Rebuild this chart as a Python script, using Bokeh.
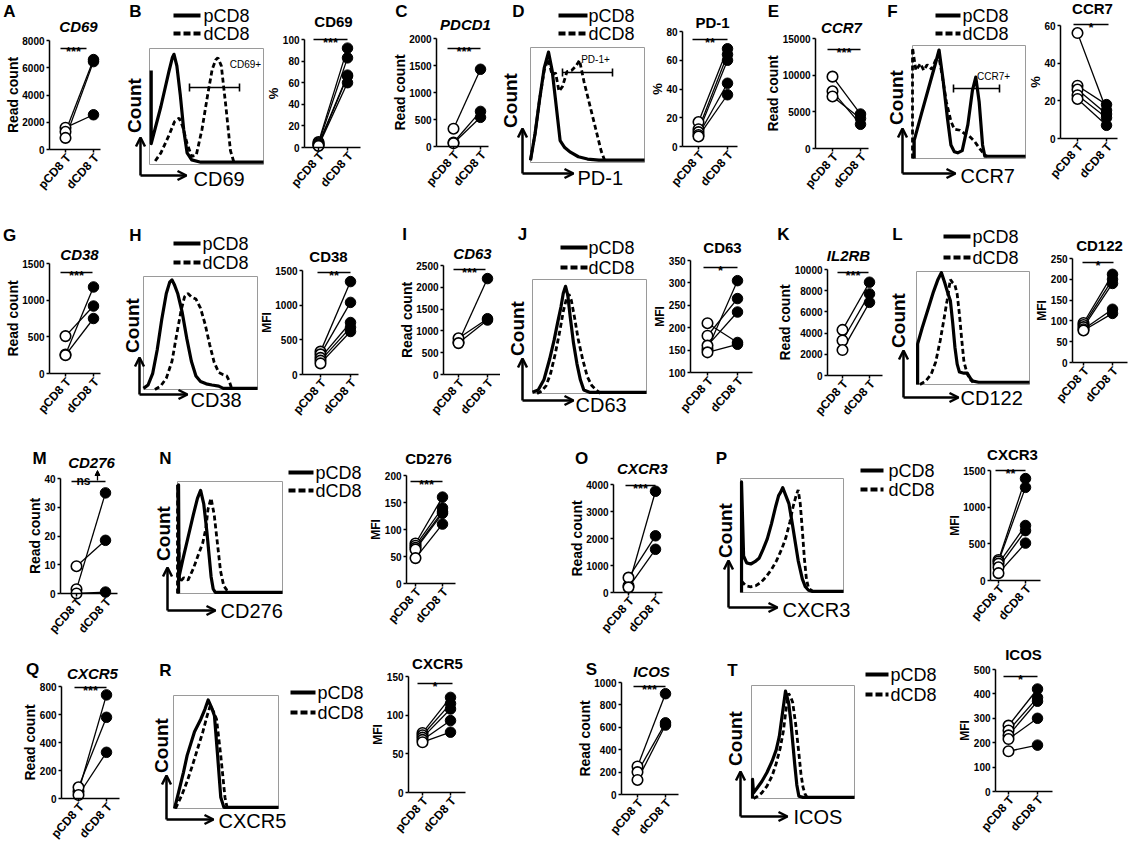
import math
from bokeh.plotting import figure
from bokeh.layouts import row, column
from bokeh.models import Range1d, FixedTicker, Label, Arrow, OpenHead, NormalHead, ColumnDataSource
from bokeh.embed import file_html
from bokeh.resources import INLINE

FONT = "Liberation Sans"
CATS = ["pCD8 T", "dCD8 T"]
LEGEND = ["pCD8", "dCD8"]

# ---------------- data: paired dot plots (pCD8 T, dCD8 T) ----------------
A_p = [1600, 1300, 850];            A_d = [2550, 6600, 6450]
Bd_p = [5, 4, 3, 2, 1.5];           Bd_d = [92, 83, 67, 66, 60]
C_p = [330, 75, 60];                C_d = [1430, 650, 540]
Dd_p = [17, 12, 10, 8, 7];          Dd_d = [68, 64, 60, 44, 36]
E_p = [9800, 7800, 7100];           E_d = [4700, 3300, 4100]
Fd_p = [56, 28, 26, 23, 21];        Fd_d = [15, 18, 13, 11, 7]
G_p = [510, 260, 250];              G_d = [920, 1180, 750]
Hd_p = [330, 290, 240, 200, 160];   Hd_d = [1340, 1040, 750, 680, 620]
I_p = [740, 830, 720];              I_d = [2200, 1280, 1250]
Jd_p = [152, 182, 160, 210, 145];   Jd_d = [305, 265, 235, 167, 163]
K_p = [4300, 3300, 2400];           K_d = [8800, 7700, 6900]
Ld_p = [95, 90, 85, 80, 77];        Ld_d = [212, 200, 190, 128, 118]
M_p = [1.5, 9.5, 0];                M_d = [35, 18.5, 0.5]
Nd_p = [74, 70, 66, 63, 47];        Nd_d = [160, 140, 133, 130, 110]
O_p = [250, 550, 190];              O_d = [3750, 2100, 1600]
Pd_p = [280, 260, 230, 180, 100];   Pd_d = [1390, 1270, 750, 680, 510]
Q_p = [50, 80, 25];                 Q_d = [740, 580, 330]
Rd_p = [77, 74, 71, 68, 65];        Rd_d = [123, 115, 108, 93, 78]
S_p = [250, 200, 130];              S_d = [900, 640, 620]
Td_p = [270, 250, 230, 215, 165];   Td_d = [420, 385, 370, 300, 190]

# y ticks
A_ticks = [0, 2000, 4000, 6000, 8000]
Bd_ticks = [0, 20, 40, 60, 80, 100]
C_ticks = [0, 500, 1000, 1500, 2000]
Dd_ticks = [0, 20, 40, 60, 80]
E_ticks = [0, 5000, 10000, 15000]
Fd_ticks = [0, 20, 40, 60]
G_ticks = [0, 500, 1000, 1500]
Hd_ticks = [0, 500, 1000, 1500]
I_ticks = [0, 500, 1000, 1500, 2000, 2500]
Jd_ticks = [100, 150, 200, 250, 300, 350]
K_ticks = [0, 2000, 4000, 6000, 8000, 10000]
Ld_ticks = [0, 50, 100, 150, 200, 250]
M_ticks = [0, 10, 20, 30, 40]
Nd_ticks = [0, 50, 100, 150, 200]
O_ticks = [0, 1000, 2000, 3000, 4000]
Pd_ticks = [0, 500, 1000, 1500]
Q_ticks = [0, 200, 400, 600, 800]
Rd_ticks = [0, 50, 100, 150]
S_ticks = [0, 200, 400, 600, 800, 1000]
Td_ticks = [0, 100, 200, 300, 400, 500]

# ---------------- data: histogram outlines (fraction of axis, fraction of max count) ----------------
B_sx = [0.015, 0.015, 0.1, 0.17, 0.2, 0.215, 0.24, 0.27, 0.3, 0.33, 0.37, 0.45, 0.6, 1.0]
B_sy = [0.81, 0.18, 0.5, 0.8, 0.92, 0.95, 0.85, 0.6, 0.3, 0.1, 0.04, 0.02, 0.02, 0.02]
B_dx = [0.05, 0.1, 0.17, 0.22, 0.26, 0.29, 0.33, 0.37, 0.41, 0.46, 0.51, 0.55, 0.58, 0.6, 0.63, 0.67, 0.71, 0.74]
B_dy = [0.03, 0.1, 0.25, 0.37, 0.4, 0.33, 0.18, 0.07, 0.08, 0.3, 0.6, 0.82, 0.9, 0.92, 0.85, 0.5, 0.12, 0.02]

D_sx = [0.0, 0.04, 0.08, 0.12, 0.158, 0.19, 0.22, 0.26, 0.3, 0.35, 0.42, 0.5, 0.6, 1.0]
D_sy = [0.02, 0.25, 0.55, 0.82, 0.96, 0.8, 0.54, 0.19, 0.13, 0.09, 0.05, 0.03, 0.02, 0.02]
D_dx = [0.0, 0.04, 0.08, 0.12, 0.155, 0.19, 0.22, 0.25, 0.28, 0.32, 0.36, 0.4, 0.43, 0.47, 0.52, 0.57, 0.62, 0.65]
D_dy = [0.02, 0.25, 0.55, 0.8, 0.9, 0.76, 0.78, 0.62, 0.66, 0.79, 0.8, 0.84, 0.89, 0.7, 0.5, 0.3, 0.1, 0.02]

F_sx = [0.015, 0.015, 0.08, 0.15, 0.2, 0.235, 0.27, 0.31, 0.34, 0.37, 0.4, 0.44, 0.49, 0.53, 0.56, 0.59, 0.62, 0.64, 0.7, 1.0]
F_sy = [0.0, 0.16, 0.4, 0.65, 0.83, 0.96, 0.7, 0.35, 0.12, 0.06, 0.05, 0.07, 0.3, 0.6, 0.72, 0.5, 0.12, 0.02, 0.02, 0.02]
F_dx = [0.0, 0.0, 0.03, 0.07, 0.1, 0.13, 0.17, 0.2, 0.23, 0.26, 0.3, 0.34, 0.37, 0.42, 0.46, 0.5, 0.55, 0.6, 0.64, 0.66]
F_dy = [0.0, 0.98, 0.78, 0.84, 0.78, 0.83, 0.79, 0.86, 0.92, 0.75, 0.5, 0.33, 0.26, 0.25, 0.22, 0.2, 0.15, 0.08, 0.03, 0.02]

H_sx = [0.0, 0.04, 0.08, 0.12, 0.16, 0.2, 0.23, 0.25, 0.27, 0.3, 0.34, 0.38, 0.42, 0.46, 0.5, 0.55, 0.6, 0.66, 0.7, 1.0]
H_sy = [0.01, 0.04, 0.14, 0.35, 0.62, 0.85, 0.95, 0.97, 0.93, 0.85, 0.68, 0.45, 0.25, 0.12, 0.07, 0.05, 0.04, 0.03, 0.01, 0.01]
H_dx = [0.1, 0.15, 0.2, 0.25, 0.29, 0.33, 0.36, 0.39, 0.42, 0.46, 0.5, 0.54, 0.58, 0.62, 0.66, 0.7, 0.73, 0.75, 0.77, 0.79]
H_dy = [0.0, 0.03, 0.1, 0.25, 0.48, 0.7, 0.82, 0.85, 0.82, 0.8, 0.72, 0.58, 0.4, 0.24, 0.15, 0.13, 0.12, 0.08, 0.02, 0.0]

J_sx = [0.0, 0.05, 0.1, 0.15, 0.19, 0.22, 0.25, 0.27, 0.29, 0.31, 0.33, 0.36, 0.39, 0.42, 0.45, 0.5, 1.0]
J_sy = [0.01, 0.03, 0.12, 0.3, 0.47, 0.62, 0.76, 0.88, 0.94, 0.86, 0.68, 0.44, 0.26, 0.12, 0.03, 0.01, 0.01]
J_dx = [0.04, 0.08, 0.12, 0.16, 0.2, 0.24, 0.27, 0.3, 0.32, 0.34, 0.37, 0.4, 0.44, 0.48, 0.52, 0.56, 0.6]
J_dy = [0.0, 0.02, 0.07, 0.18, 0.35, 0.55, 0.72, 0.84, 0.87, 0.82, 0.66, 0.48, 0.3, 0.15, 0.07, 0.03, 0.0]

L_sx = [0.01, 0.01, 0.05, 0.1, 0.15, 0.19, 0.22, 0.25, 0.28, 0.3, 0.32, 0.34, 0.36, 0.38, 0.42, 0.45, 0.48, 0.5, 0.55, 1.0]
L_sy = [0.0, 0.36, 0.5, 0.66, 0.82, 0.93, 0.99, 0.9, 0.8, 0.74, 0.55, 0.33, 0.18, 0.11, 0.1, 0.1, 0.05, 0.03, 0.02, 0.02]
L_dx = [0.03, 0.08, 0.13, 0.17, 0.21, 0.24, 0.27, 0.3, 0.32, 0.34, 0.36, 0.38, 0.4, 0.42, 0.45, 0.48, 0.5]
L_dy = [0.0, 0.03, 0.09, 0.2, 0.39, 0.56, 0.74, 0.93, 0.9, 0.88, 0.8, 0.62, 0.4, 0.2, 0.09, 0.04, 0.02]

N_sx = [0.01, 0.01, 0.015, 0.05, 0.1, 0.15, 0.19, 0.22, 0.25, 0.28, 0.3, 0.32, 0.34, 0.36, 1.0]
N_sy = [0.0, 0.97, 0.15, 0.3, 0.5, 0.7, 0.85, 0.92, 0.8, 0.55, 0.35, 0.15, 0.04, 0.01, 0.01]
N_dx = [0.0, 0.0, 0.02, 0.06, 0.1, 0.15, 0.2, 0.24, 0.27, 0.29, 0.31, 0.32, 0.35, 0.38, 0.41, 0.44, 0.47, 0.5]
N_dy = [0.0, 0.97, 0.1, 0.14, 0.12, 0.22, 0.35, 0.45, 0.58, 0.75, 0.82, 0.85, 0.7, 0.45, 0.2, 0.07, 0.03, 0.01]

P_sx = [0.01, 0.01, 0.03, 0.06, 0.1, 0.14, 0.18, 0.22, 0.26, 0.3, 0.34, 0.37, 0.39, 0.41, 0.44, 0.47, 0.5, 0.53, 0.56, 0.6, 0.63, 0.66, 0.7, 1.0]
P_sy = [0.0, 0.97, 0.32, 0.26, 0.25, 0.27, 0.3, 0.38, 0.47, 0.6, 0.75, 0.85, 0.88, 0.92, 0.85, 0.78, 0.62, 0.45, 0.28, 0.12, 0.05, 0.02, 0.01, 0.01]
P_dx = [0.01, 0.05, 0.1, 0.15, 0.2, 0.25, 0.3, 0.35, 0.4, 0.44, 0.48, 0.51, 0.54, 0.56, 0.58, 0.6, 0.62, 0.64, 0.66, 0.7]
P_dy = [0.1, 0.06, 0.05, 0.06, 0.09, 0.14, 0.2, 0.28, 0.38, 0.48, 0.62, 0.75, 0.85, 0.9, 0.78, 0.55, 0.3, 0.12, 0.04, 0.01]

R_sx = [0.01, 0.05, 0.095, 0.13, 0.2, 0.26, 0.3, 0.33, 0.36, 0.39, 0.42, 0.45, 0.48, 1.0]
R_sy = [0.0, 0.15, 0.32, 0.47, 0.68, 0.79, 0.88, 0.96, 0.9, 0.82, 0.47, 0.1, 0.01, 0.01]
R_dx = [0.02, 0.08, 0.13, 0.18, 0.23, 0.28, 0.32, 0.35, 0.38, 0.41, 0.45, 0.49, 0.51]
R_dy = [0.0, 0.12, 0.24, 0.38, 0.53, 0.68, 0.82, 0.91, 0.86, 0.79, 0.47, 0.1, 0.01]

T_sx = [0.01, 0.01, 0.02, 0.06, 0.1, 0.15, 0.2, 0.24, 0.27, 0.3, 0.33, 0.36, 0.38, 0.4, 0.42, 0.44, 0.46, 0.5, 1.0]
T_sy = [0.0, 0.17, 0.05, 0.1, 0.15, 0.23, 0.33, 0.43, 0.55, 0.75, 0.95, 0.85, 0.7, 0.5, 0.3, 0.12, 0.02, 0.01, 0.01]
T_dx = [0.02, 0.06, 0.1, 0.15, 0.2, 0.24, 0.28, 0.31, 0.34, 0.36, 0.38, 0.4, 0.43, 0.46, 0.48, 0.5, 0.52, 0.54]
T_dy = [0.0, 0.02, 0.05, 0.11, 0.2, 0.31, 0.45, 0.6, 0.82, 0.93, 0.9, 0.85, 0.65, 0.4, 0.22, 0.1, 0.04, 0.01]

# ---------------- panel descriptions ----------------
DOTS = {
    "A":  dict(p=A_p, d=A_d, ticks=A_ticks, ylab="Read count", title="CD69", it=True, stars="***", letter="A"),
    "Bd": dict(p=Bd_p, d=Bd_d, ticks=Bd_ticks, ylab="%", title="CD69", it=False, stars="***", letter=None),
    "C":  dict(p=C_p, d=C_d, ticks=C_ticks, ylab="Read count", title="PDCD1", it=True, stars="***", letter="C"),
    "Dd": dict(p=Dd_p, d=Dd_d, ticks=Dd_ticks, ylab="%", title="PD-1", it=False, stars="**", letter=None),
    "E":  dict(p=E_p, d=E_d, ticks=E_ticks, ylab="Read count", title="CCR7", it=True, stars="***", letter="E"),
    "Fd": dict(p=Fd_p, d=Fd_d, ticks=Fd_ticks, ylab="%", title="CCR7", it=False, stars="*", letter=None),
    "G":  dict(p=G_p, d=G_d, ticks=G_ticks, ylab="Read count", title="CD38", it=True, stars="***", letter="G"),
    "Hd": dict(p=Hd_p, d=Hd_d, ticks=Hd_ticks, ylab="MFI", title="CD38", it=False, stars="**", letter=None),
    "I":  dict(p=I_p, d=I_d, ticks=I_ticks, ylab="Read count", title="CD63", it=True, stars="***", letter="I"),
    "Jd": dict(p=Jd_p, d=Jd_d, ticks=Jd_ticks, ylab="MFI", title="CD63", it=False, stars="*", letter=None),
    "K":  dict(p=K_p, d=K_d, ticks=K_ticks, ylab="Read count", title="IL2RB", it=True, stars="***", letter="K"),
    "Ld": dict(p=Ld_p, d=Ld_d, ticks=Ld_ticks, ylab="MFI", title="CD122", it=False, stars="*", letter=None),
    "M":  dict(p=M_p, d=M_d, ticks=M_ticks, ylab="Read count", title="CD276", it=True, stars="ns", letter="M"),
    "Nd": dict(p=Nd_p, d=Nd_d, ticks=Nd_ticks, ylab="MFI", title="CD276", it=False, stars="***", letter=None),
    "O":  dict(p=O_p, d=O_d, ticks=O_ticks, ylab="Read count", title="CXCR3", it=True, stars="***", letter="O"),
    "Pd": dict(p=Pd_p, d=Pd_d, ticks=Pd_ticks, ylab="MFI", title="CXCR3", it=False, stars="**", letter=None),
    "Q":  dict(p=Q_p, d=Q_d, ticks=Q_ticks, ylab="Read count", title="CXCR5", it=True, stars="***", letter="Q"),
    "Rd": dict(p=Rd_p, d=Rd_d, ticks=Rd_ticks, ylab="MFI", title="CXCR5", it=False, stars="*", letter=None),
    "S":  dict(p=S_p, d=S_d, ticks=S_ticks, ylab="Read count", title="ICOS", it=True, stars="***", letter="S"),
    "Td": dict(p=Td_p, d=Td_d, ticks=Td_ticks, ylab="MFI", title="ICOS", it=False, stars="*", letter=None),
}

HISTS = {
    "B": dict(sx=B_sx, sy=B_sy, dx=B_dx, dy=B_dy, marker="CD69", letter="B", gate="CD69+"),
    "D": dict(sx=D_sx, sy=D_sy, dx=D_dx, dy=D_dy, marker="PD-1", letter="D", gate="PD-1+"),
    "F": dict(sx=F_sx, sy=F_sy, dx=F_dx, dy=F_dy, marker="CCR7", letter="F", gate="CCR7+"),
    "H": dict(sx=H_sx, sy=H_sy, dx=H_dx, dy=H_dy, marker="CD38", letter="H", gate=None),
    "J": dict(sx=J_sx, sy=J_sy, dx=J_dx, dy=J_dy, marker="CD63", letter="J", gate=None),
    "L": dict(sx=L_sx, sy=L_sy, dx=L_dx, dy=L_dy, marker="CD122", letter="L", gate=None),
    "N": dict(sx=N_sx, sy=N_sy, dx=N_dx, dy=N_dy, marker="CD276", letter="N", gate=None),
    "P": dict(sx=P_sx, sy=P_sy, dx=P_dx, dy=P_dy, marker="CXCR3", letter="P", gate=None),
    "R": dict(sx=R_sx, sy=R_sy, dx=R_dx, dy=R_dy, marker="CXCR5", letter="R", gate=None),
    "T": dict(sx=T_sx, sy=T_sy, dx=T_dx, dy=T_dy, marker="ICOS", letter="T", gate=None),
}

# ---------------- layout geometry (pixel positions on the page) ----------------
DOT_GEOM = {
    "A":  dict(ax=49, xe=100, xp=65, xd=93, y0=149, ym=40, title=(78, 26), letter=(9, 11), bar=(60, 86, 48)),
    "Bd": dict(ax=304, xe=360, xp=318, xd=347, y0=147, ym=39, title=(333, 21), bar=(313, 347, 39)),
    "C":  dict(ax=436, xe=488, xp=453, xd=480, y0=146, ym=38, title=(465, 24), letter=(401, 11), bar=(447, 480, 48)),
    "Dd": dict(ax=682, xe=737, xp=698, xd=727, y0=146, ym=31, title=(712, 22), bar=(692, 727, 39)),
    "E":  dict(ax=815, xe=868, xp=832, xd=860, y0=148, ym=38, title=(841, 27), letter=(773, 11), bar=(827, 860, 49)),
    "Fd": dict(ax=1060, xe=1117, xp=1077, xd=1106, y0=138, ym=25, title=(1092, 8), bar=(1073, 1108, 24)),
    "G":  dict(ax=49, xe=100, xp=65, xd=93, y0=373, ym=263, title=(79, 254), letter=(9, 235), bar=(60, 92, 272)),
    "Hd": dict(ax=302, xe=358, xp=320, xd=350, y0=374, ym=270, title=(328, 256), bar=(317, 350, 272)),
    "I":  dict(ax=443, xe=500, xp=458, xd=487, y0=374, ym=265, title=(472, 253), letter=(404, 234), bar=(453, 485, 269)),
    "Jd": dict(ax=690, xe=752, xp=707, xd=737, y0=372, ym=260, title=(722, 247), bar=(703, 737, 267)),
    "K":  dict(ax=827, xe=882, xp=842, xd=869, y0=375, ym=269, title=(848, 255), letter=(783, 234), bar=(837, 868, 272)),
    "Ld": dict(ax=1072, xe=1127, xp=1083, xd=1112, y0=362, ym=258, title=(1099, 245), bar=(1082, 1113, 262)),
    "M":  dict(ax=60, xe=117, xp=76, xd=105, y0=593, ym=478, title=(91, 462), letter=(39, 458), bar=(71, 105, 481)),
    "Nd": dict(ax=406, xe=455, xp=415, xd=442, y0=583, ym=475, title=(428, 458), bar=(410, 442, 481)),
    "O":  dict(ax=613, xe=662, xp=628, xd=655, y0=592, ym=484, title=(642, 468), letter=(581, 458), bar=(625, 655, 485)),
    "Pd": dict(ax=990, xe=1040, xp=998, xd=1025, y0=580, ym=470, title=(1012, 454), bar=(995, 1025, 470)),
    "Q":  dict(ax=61, xe=119, xp=78, xd=106, y0=798, ym=686, title=(92, 673), letter=(32, 669), bar=(74, 106, 687)),
    "Rd": dict(ax=408, xe=465, xp=422, xd=450, y0=792, ym=676, title=(437, 663), bar=(417, 452, 683)),
    "S":  dict(ax=621, xe=678, xp=637, xd=665, y0=794, ym=682, title=(651, 671), letter=(591, 669), bar=(633, 665, 686)),
    "Td": dict(ax=995, xe=1052, xp=1008, xd=1037, y0=791, ym=669, title=(1023, 654), bar=(1003, 1037, 676)),
}

HIST_GEOM = {
    "B": dict(box=(149, 263, 48, 164), leg=(173, 200, 15, 33, 203), arrow=(140, 175, 137, 186), count=(134, 105), mk=(193, 178), letter=(135, 11), gate=(189, 239, 87), gl=(245, 64)),
    "D": dict(box=(530, 644, 47, 162), leg=(558, 587, 15, 33, 588), arrow=(522, 173, 128, 573), count=(510, 100), mk=(577, 177), letter=(518, 11), gate=(562, 612, 72), gl=(595, 59)),
    "F": dict(box=(912, 1025, 45, 158), leg=(935, 960, 15, 33, 962), arrow=(902, 173, 128, 955), count=(896, 97), mk=(960, 175), letter=(892, 11), gate=(953, 999, 88), gl=(993, 76)),
    "H": dict(box=(143, 257, 276, 389), leg=(173, 200, 243, 262, 202), arrow=(139, 394, 357, 187), count=(132, 325), mk=(190, 399), letter=(135, 235)),
    "J": dict(box=(532, 646, 279, 393), leg=(560, 587, 247, 267, 588), arrow=(522, 400, 358, 573), count=(517, 328), mk=(575, 404), letter=(522, 234)),
    "L": dict(box=(916, 1029, 271, 384), leg=(943, 970, 236, 257, 972), arrow=(903, 397, 350, 958), count=(898, 320), mk=(960, 397), letter=(897, 234)),
    "N": dict(box=(177, 282, 481, 593), leg=(288, 313, 472, 490, 315), arrow=(167, 610, 567, 215), count=(163, 533), mk=(220, 610), letter=(165, 458)),
    "P": dict(box=(740, 843, 478, 592), leg=(860, 883, 470, 489, 888), arrow=(728, 607, 560, 777), count=(725, 530), mk=(782, 609), letter=(721, 458)),
    "R": dict(box=(173, 278, 695, 808), leg=(290, 315, 692, 712, 317), arrow=(166, 819, 775, 213), count=(161, 745), mk=(218, 820), letter=(165, 670)),
    "T": dict(box=(751, 854, 685, 798), leg=(865, 888, 674, 694, 890), arrow=(740, 816, 771, 787), count=(735, 738), mk=(793, 816), letter=(732, 670)),
}

ROWS = [
    dict(y=(0, 210), cells=[("dot", "A", 0, 118), ("hist", "B", 118, 264), ("dot", "Bd", 264, 380),
                            ("dot", "C", 380, 498), ("hist", "D", 498, 646), ("dot", "Dd", 646, 752),
                            ("dot", "E", 752, 880), ("hist", "F", 880, 1026), ("dot", "Fd", 1026, 1133)]),
    dict(y=(210, 222), cells=[("dot", "G", 0, 112), ("hist", "H", 112, 259), ("dot", "Hd", 259, 370),
                              ("dot", "I", 370, 500), ("hist", "J", 500, 648), ("dot", "Jd", 648, 762),
                              ("dot", "K", 762, 886), ("hist", "L", 886, 1032), ("dot", "Ld", 1032, 1133)]),
    dict(y=(432, 212), cells=[("dot", "M", 0, 150), ("hist", "N", 150, 365), ("dot", "Nd", 365, 560),
                              ("dot", "O", 560, 700), ("hist", "P", 700, 940), ("dot", "Pd", 940, 1133)]),
    dict(y=(644, 197), cells=[("dot", "Q", 0, 150), ("hist", "R", 150, 365), ("dot", "Rd", 365, 570),
                              ("dot", "S", 570, 700), ("hist", "T", 700, 945), ("dot", "Td", 945, 1133)]),
]

YLAB_SIZE = {"Read count": 14, "%": 13, "MFI": 12}


def label(p, x, y, text, size, style="normal", align="center", baseline="middle", angle=0):
    p.add_layout(Label(x=x, y=y, text=text, text_font=FONT, text_font_size=size,
                       text_font_style=style, text_align=align, text_baseline=baseline,
                       text_color="black", angle=angle))


def new_fig(W, H, xr, yr, xloc, yloc):
    p = figure(width=W, height=H, title=None, toolbar_location=None, tools="", output_backend="svg",
               x_range=xr, y_range=yr, x_axis_location=xloc, y_axis_location=yloc)
    p.min_border_left = 0
    p.min_border_right = 0
    p.min_border_top = 0
    p.min_border_bottom = 0
    p.outline_line_color = None
    p.background_fill_color = "white"
    p.border_fill_color = "white"
    p.grid.visible = False
    return p


def style_axis(a):
    a.axis_line_width = 1.5
    a.axis_line_color = "black"
    a.major_tick_line_width = 1.5
    a.major_tick_line_color = "black"
    a.major_tick_out = 0
    a.major_tick_in = 3
    a.minor_tick_line_color = None
    # tick texts are written as labels next to the axis (below)
    a.major_label_text_font_size = "0px"
    a.major_label_text_color = None
    a.major_label_standoff = 0


def dot_panel(key, cx0, cx1, ry0, H):
    s = DOTS[key]
    g = DOT_GEOM[key]
    W = cx1 - cx0
    ticks = s["ticks"]
    ymin, ymax = ticks[0], ticks[-1]
    vpp = (ymax - ymin) / (g["y0"] - g["ym"])
    upp = 1.0 / (g["xd"] - g["xp"])

    def X(px):
        return (px - g["xp"]) * upp

    def Y(py):
        return ymin + (g["y0"] - py) * vpp

    p = new_fig(W, H, Range1d(X(cx0), X(cx1)), Range1d(Y(ry0 + H), Y(ry0)), "above", "right")
    xa = p.xaxis[0]
    ya = p.yaxis[0]
    style_axis(xa)
    style_axis(ya)
    xa.fixed_location = ymin
    xa.bounds = (X(g["ax"]), X(g["xe"]))
    xa.ticker = FixedTicker(ticks=[0, 1])
    ya.fixed_location = X(g["ax"])
    ya.bounds = (ymin, ymax)
    ya.ticker = FixedTicker(ticks=ticks)

    for t in ticks:
        label(p, X(g["ax"] - 5), t, str(t), "10px", "bold", "right", "middle")
    for i, px in enumerate((g["xp"], g["xd"])):
        label(p, X(px + 3), Y(g["y0"] + 6), CATS[i], "12px", "bold", "right", "middle", angle=0.85)
    fs = YLAB_SIZE[s["ylab"]]
    maxw = max(len(str(t)) for t in ticks) * 0.556 * 10
    ylx = g["ax"] - 5 - maxw - 2 - fs * 0.55
    label(p, X(ylx), Y((g["y0"] + g["ym"]) / 2), s["ylab"], "%dpx" % fs, "bold", angle=math.pi / 2)

    n = len(s["p"])
    src = ColumnDataSource(dict(xp=[0] * n, xd=[1] * n, yp=s["p"], yd=s["d"]))
    p.segment(x0="xp", y0="yp", x1="xd", y1="yd", source=src, line_color="black", line_width=1.3)
    p.scatter("xp", "yp", source=src, size=10.5, marker="circle", fill_color="white",
              line_color="black", line_width=1.6)
    p.scatter("xd", "yd", source=src, size=10.5, marker="circle", fill_color="black",
              line_color="black", line_width=1)

    bx0, bx1, by = g["bar"]
    p.line([X(bx0), X(bx1)], [Y(by), Y(by)], line_color="black", line_width=1.5)
    if s["stars"] == "ns":
        label(p, X((bx0 + bx1) / 2 - 5), Y(by - 1), "ns", "12px", "bold", "center", "alphabetic")
        p.add_layout(Arrow(end=NormalHead(size=5, fill_color="black", line_color="black"),
                           x_start=X(bx1 - 8), y_start=Y(by - 1), x_end=X(bx1 - 8), y_end=Y(by - 11),
                           line_width=1.3, line_color="black"))
    else:
        label(p, X((bx0 + bx1) / 2), Y(by + 3), s["stars"], "13px", "bold", "center", "alphabetic")

    tx, ty = g["title"]
    label(p, X(tx), Y(ty), s["title"], "15px", "bold italic" if s["it"] else "bold")
    if s["letter"]:
        lx, ly = g["letter"]
        label(p, X(lx), Y(ly), s["letter"], "17px", "bold")
    return p


def hist_panel(key, cx0, cx1, ry0, H):
    s = HISTS[key]
    g = HIST_GEOM[key]
    W = cx1 - cx0
    bx0, bx1, by0, by1 = g["box"]
    bw, bh = bx1 - bx0, by1 - by0

    def U(px):
        return (px - bx0) / bw

    def V(py):
        return (by1 - py) / bh

    p = new_fig(W, H, Range1d(U(cx0), U(cx1)), Range1d(V(ry0 + H), V(ry0)), None, None)

    p.quad(left=0, right=1, bottom=0, top=1, fill_color=None, line_color="#9a9a9a", line_width=1)
    p.line(s["dx"], s["dy"], line_color="black", line_width=2.8, line_dash="5 3")
    p.line(s["sx"], s["sy"], line_color="black", line_width=3.2, line_join="round")

    ox, oy, uy, rx = g["arrow"]
    for xe, ye in ((ox, uy), (rx, oy)):
        p.add_layout(Arrow(end=OpenHead(size=9, line_width=2.5, line_color="black"),
                           x_start=U(ox), y_start=V(oy), x_end=U(xe), y_end=V(ye),
                           line_width=2.5, line_color="black"))
    cx, cy = g["count"]
    label(p, U(cx), V(cy), "Count", "19px", "bold", angle=math.pi / 2)
    mx, my = g["mk"]
    label(p, U(mx), V(my), s["marker"], "20px", "normal", "left")

    l0, l1, ys, yd, tx = g["leg"]
    p.line([U(l0), U(l1)], [V(ys), V(ys)], line_color="black", line_width=4)
    p.line([U(l0), U(l1)], [V(yd), V(yd)], line_color="black", line_width=4, line_dash="7 3")
    label(p, U(tx), V(ys), LEGEND[0], "18px", "normal", "left")
    label(p, U(tx), V(yd), LEGEND[1], "18px", "normal", "left")

    lx, ly = g["letter"]
    label(p, U(lx), V(ly), s["letter"], "17px", "bold")

    if s["gate"]:
        g0, g1, gy = g["gate"]
        p.line([U(g0), U(g1)], [V(gy), V(gy)], line_color="black", line_width=1.6)
        p.segment(x0=[U(g0), U(g1)], y0=[V(gy - 4), V(gy - 4)], x1=[U(g0), U(g1)], y1=[V(gy + 4), V(gy + 4)],
                  line_color="black", line_width=1.6)
        glx, gly = g["gl"]
        label(p, U(glx), V(gly), s["gate"], "10px", "normal")
    return p


rows = []
for r in ROWS:
    ry0, H = r["y"]
    figs = []
    for kind, key, cx0, cx1 in r["cells"]:
        if kind == "dot":
            figs.append(dot_panel(key, cx0, cx1, ry0, H))
        else:
            figs.append(hist_panel(key, cx0, cx1, ry0, H))
    rows.append(row(*figs, spacing=0))

layout = column(*rows, spacing=0)
open("out.html", "w").write(file_html(layout, INLINE, "CD8 T markers"))
